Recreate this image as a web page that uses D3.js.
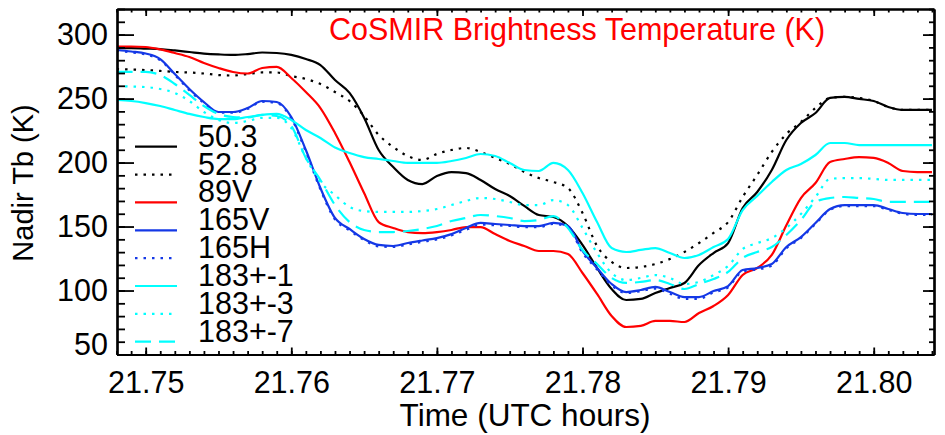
<!DOCTYPE html>
<html>
<head>
<meta charset="utf-8">
<script src="https://cdn.jsdelivr.net/npm/d3@7"></script>
<style>
  body { margin: 0; background: #fff; }
  svg text { font-family: "Liberation Sans", Arial, Helvetica, sans-serif; }
</style>
</head>
<body>
<div id="chart"></div>
<script>
// sample times (UTC hours)
var times = [21.748, 21.749, 21.750, 21.751, 21.752, 21.753, 21.754, 21.755, 21.756, 21.757,
             21.758, 21.759, 21.760, 21.761, 21.762, 21.763, 21.764, 21.765, 21.766, 21.767,
             21.768, 21.769, 21.770, 21.771, 21.772, 21.773, 21.774, 21.775, 21.776, 21.777,
             21.778, 21.779, 21.780, 21.781, 21.782, 21.783, 21.784, 21.785, 21.786, 21.787,
             21.788, 21.789, 21.790, 21.791, 21.792, 21.793, 21.794, 21.795, 21.796, 21.797,
             21.798, 21.799, 21.800, 21.801, 21.802, 21.803, 21.804];

// nadir brightness temperatures (K) per channel
var tb503 = [289.5, 289.5, 289.1, 288.7, 287.6, 286.4, 285.2, 284.5, 284.1, 284.8,
             286.0, 285.6, 284.1, 280.9, 276.2, 264.5, 254.4, 235.0, 209.8, 196.5,
             186.4, 183.2, 189.5, 192.6, 191.8, 186.4, 179.3, 173.9, 166.1, 159.0,
             157.5, 150.4, 135.6, 117.6, 101.2, 92.6, 93.4, 98.1, 102.0, 105.9,
             119.9, 129.3, 137.1, 164.5, 177.0, 194.2, 217.6, 230.9, 238.7, 250.5,
             251.3, 249.7, 248.1, 243.4, 241.1, 241.1, 241.1];
var tb528 = [273.1, 272.7, 272.3, 271.6, 270.8, 270.4, 269.6, 268.4, 268.0, 269.2,
             270.4, 270.4, 267.6, 265.3, 261.4, 255.1, 248.1, 236.4, 221.6, 212.2,
             205.1, 202.0, 206.7, 209.8, 211.4, 208.3, 203.6, 198.9, 192.6, 187.9,
             184.8, 180.1, 160.6, 134.8, 122.3, 117.6, 118.4, 120.7, 124.6, 130.1,
             137.1, 145.0, 153.5, 173.1, 190.3, 208.3, 222.3, 231.7, 242.6, 250.5,
             251.3, 250.5, 248.1, 243.4, 241.1, 241.1, 241.1];
var tb89v = [290.7, 290.7, 290.3, 288.4, 285.6, 282.5, 277.8, 273.9, 270.8, 269.6,
             273.9, 274.7, 266.1, 255.1, 242.6, 223.1, 200.4, 176.2, 153.5, 148.9,
             145.7, 144.9, 145.7, 147.3, 149.6, 149.6, 144.1, 138.7, 134.8, 130.9,
             130.9, 128.5, 113.7, 97.3, 80.1, 71.5, 72.3, 76.2, 76.2, 75.4,
             82.4, 87.9, 96.5, 112.1, 117.6, 127.8, 151.0, 172.3, 184.0, 200.4,
             202.8, 204.3, 203.6, 199.7, 193.4, 192.6, 192.6];
var tb165v = [288.0, 286.8, 285.2, 280.9, 269.2, 257.5, 247.3, 239.5, 239.5, 242.6,
              248.1, 247.3, 235.6, 209.8, 180.1, 156.7, 148.1, 140.3, 135.6, 134.8,
              137.1, 139.1, 141.0, 144.1, 148.9, 152.8, 152.0, 151.2, 150.4, 150.4,
              152.8, 150.4, 130.9, 117.6, 105.1, 98.8, 100.4, 102.8, 98.8, 94.9,
              94.9, 99.6, 103.5, 116.0, 117.6, 120.7, 134.0, 141.8, 152.8, 163.7,
              166.8, 166.8, 166.8, 163.7, 160.6, 159.8, 159.8];
var tb165h = [287.5, 286.0, 284.5, 280.0, 268.5, 256.5, 246.5, 239.0, 239.0, 242.0,
              247.5, 246.5, 234.5, 208.5, 179.0, 155.5, 147.0, 139.5, 134.5, 134.0,
              136.0, 138.0, 140.0, 143.0, 147.5, 151.5, 151.0, 150.5, 149.5, 149.5,
              152.0, 149.5, 129.5, 116.5, 104.0, 98.0, 99.5, 101.5, 97.5, 93.5,
              93.5, 98.5, 102.5, 115.0, 116.5, 119.5, 133.0, 141.0, 152.0, 163.0,
              166.0, 166.0, 166.0, 163.0, 160.0, 159.0, 159.0];
var tb183_1 = [248.9, 248.1, 246.5, 244.2, 241.1, 238.0, 235.6, 234.0, 234.0, 235.6,
               237.2, 238.0, 233.3, 225.4, 219.2, 211.8, 207.5, 204.3, 202.8, 201.2,
               199.7, 199.7, 199.7, 201.2, 203.6, 206.7, 205.1, 199.7, 194.2, 193.4,
               199.7, 194.2, 176.2, 153.5, 133.2, 130.1, 131.7, 133.2, 129.3, 125.4,
               127.8, 134.0, 140.3, 162.9, 173.9, 184.8, 194.2, 198.9, 205.9, 215.3,
               215.3, 213.7, 213.7, 213.7, 213.7, 213.7, 213.7];
var tb183_3 = [259.8, 259.4, 259.0, 257.5, 254.4, 248.1, 239.5, 233.3, 230.9, 232.5,
               234.9, 234.9, 227.0, 203.6, 184.8, 174.6, 165.3, 162.1, 161.4, 161.4,
               161.4, 162.1, 163.7, 166.8, 170.0, 172.3, 171.5, 169.2, 166.8, 166.8,
               170.7, 166.8, 148.9, 129.3, 113.7, 108.2, 109.8, 112.1, 109.8, 105.1,
               106.7, 112.1, 119.2, 132.4, 137.1, 141.0, 148.9, 159.8, 173.1, 187.2,
               187.9, 187.9, 187.2, 186.4, 186.4, 186.4, 186.4];
var tb183_7 = [270.8, 270.8, 270.8, 268.4, 261.4, 252.8, 244.2, 238.0, 235.6, 235.2,
               237.2, 236.4, 228.6, 203.6, 186.4, 166.8, 153.5, 147.3, 145.7, 145.7,
               146.5, 148.1, 150.4, 154.3, 156.7, 159.0, 158.2, 156.7, 154.3, 155.1,
               158.2, 148.9, 131.7, 120.7, 109.8, 105.9, 106.7, 108.2, 105.1, 101.2,
               105.1, 109.0, 114.5, 125.4, 130.1, 134.0, 143.4, 155.1, 169.2, 172.3,
               173.1, 172.3, 171.5, 169.2, 169.2, 169.2, 169.2];

var channelNames = ["50.3", "52.8", "89V", "165V", "165H", "183+-1", "183+-3", "183+-7"];
var xTicks = [21.75, 21.76, 21.77, 21.78, 21.79, 21.80];
var yTicks = [50, 100, 150, 200, 250, 300];

var series = [
  {name: channelNames[0], values: tb503,   color: "#000000", dash: null},
  {name: channelNames[1], values: tb528,   color: "#000000", dash: "2.5,6"},
  {name: channelNames[2], values: tb89v,   color: "#ff0000", dash: null},
  {name: channelNames[3], values: tb165v,  color: "#1438e6", dash: null},
  {name: channelNames[4], values: tb165h,  color: "#1438e6", dash: "2.5,6"},
  {name: channelNames[5], values: tb183_1, color: "#00ffff", dash: null},
  {name: channelNames[6], values: tb183_3, color: "#00ffff", dash: "2.5,6"},
  {name: channelNames[7], values: tb183_7, color: "#00ffff", dash: "16,8"}
];

var W = 945, H = 435;
var margin = {top: 9, right: 11, bottom: 80.5, left: 117},
    width = W - margin.left - margin.right,
    height = H - margin.top - margin.bottom;

var svg = d3.select("#chart").append("svg")
    .attr("width", W)
    .attr("height", H)
    .append("g")
    .attr("transform", "translate(" + margin.left + "," + margin.top + ")");

var x = d3.scaleLinear()
    .domain([21.74803, 21.80414])
    .range([0, width]);
var y = d3.scaleLinear()
    .domain([50, 320])
    .range([height, 0]);

svg.append("clipPath").attr("id", "plotclip")
  .append("rect").attr("width", width).attr("height", height);

// lines
var line = d3.line()
    .x(function(d) { return x(d[0]); })
    .y(function(d) { return y(d[1]); })
    .curve(d3.curveMonotoneX);

svg.append("g").attr("clip-path", "url(#plotclip)")
  .selectAll("path")
  .data(series)
  .enter()
  .append("path")
    .attr("fill", "none")
    .attr("stroke", function(d) { return d.color; })
    .attr("stroke-width", 2.2)
    .attr("stroke-dasharray", function(d) { return d.dash; })
    .attr("d", function(d) { return line(d.values.map(function(v, i) { return [times[i], v]; })); });

// axes, ticks pointing inward on all four sides
var minorX = d3.range(21.748, 21.8045, 0.001);
var minorY = d3.range(50, 321, 10);

function styleAxis(g) {
  g.select(".domain").attr("stroke-width", 2.2);
  g.selectAll(".tick line").attr("stroke-width", 1.8);
  g.selectAll("text").attr("fill", "#000").style("font-size", "30.5px");
}

svg.append("g")
  .attr("transform", "translate(0," + height + ")")
  .call(d3.axisBottom(x).tickValues(minorX).tickSize(-3.5).tickSizeOuter(0).tickFormat(""))
  .call(styleAxis);
svg.append("g")
  .attr("transform", "translate(0," + height + ")")
  .call(d3.axisBottom(x).tickValues(xTicks).tickSize(-7).tickSizeOuter(0)
    .tickPadding(17).tickFormat(d3.format(".2f")))
  .call(styleAxis);

svg.append("g")
  .call(d3.axisTop(x).tickValues(minorX).tickSize(-3.5).tickSizeOuter(0).tickFormat(""))
  .call(styleAxis);
svg.append("g")
  .call(d3.axisTop(x).tickValues(xTicks).tickSize(-7).tickSizeOuter(0).tickFormat(""))
  .call(styleAxis);

svg.append("g")
  .call(d3.axisLeft(y).tickValues(minorY).tickSize(-8).tickSizeOuter(0).tickFormat(""))
  .call(styleAxis);
var yAxisG = svg.append("g")
  .call(d3.axisLeft(y).tickValues(yTicks).tickSize(-17).tickSizeOuter(0).tickPadding(9))
  .call(styleAxis);
// lowest label sits just above the corner
yAxisG.selectAll(".tick text").filter(function(d) { return d === 50; }).attr("y", -10);

svg.append("g")
  .attr("transform", "translate(" + width + ",0)")
  .call(d3.axisRight(y).tickValues(minorY).tickSize(-5).tickSizeOuter(0).tickFormat(""))
  .call(styleAxis);
svg.append("g")
  .attr("transform", "translate(" + width + ",0)")
  .call(d3.axisRight(y).tickValues(yTicks).tickSize(-11).tickSizeOuter(0).tickFormat(""))
  .call(styleAxis);

// title
svg.append("text")
    .attr("x", 577 - margin.left)
    .attr("y", 40 - margin.top)
    .attr("text-anchor", "middle")
    .attr("fill", "#ff0000")
    .style("font-size", "30.5px")
    .text("CoSMIR Brightness Temperature (K)");

// axis titles
svg.append("text")
    .attr("x", 525 - margin.left)
    .attr("y", 426 - margin.top)
    .attr("text-anchor", "middle")
    .style("font-size", "31.5px")
    .text("Time (UTC hours)");

svg.append("text")
    .attr("transform", "translate(" + (33 - margin.left) + "," + (183 - margin.top) + ") rotate(-90)")
    .attr("text-anchor", "middle")
    .style("font-size", "29px")
    .text("Nadir Tb (K)");

// legend
var legend = svg.append("g").selectAll("g")
  .data(series)
  .enter()
  .append("g")
    .attr("transform", function(d, i) { return "translate(" + (135 - margin.left) + "," + (146.7 + i * 27.86 - margin.top) + ")"; });

legend.append("line")
    .attr("x1", 0).attr("x2", 42)
    .attr("stroke", function(d) { return d.color; })
    .attr("stroke-width", 2.2)
    .attr("stroke-dasharray", function(d) { return d.dash; });

legend.append("text")
    .attr("x", 63)
    .style("font-size", "30.5px")
    .text(function(d) { return d.name; });
</script>
</body>
</html>
